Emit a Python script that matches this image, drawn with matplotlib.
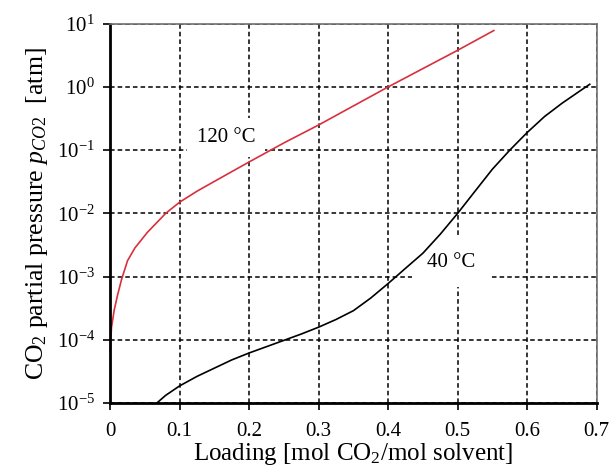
import numpy as np
import matplotlib
matplotlib.use("Agg")
import matplotlib.pyplot as plt
from matplotlib.ticker import FixedLocator, FuncFormatter

plt.rcParams['font.family'] = ['Liberation Serif', 'DejaVu Serif']
plt.rcParams['mathtext.fontset'] = 'custom'
plt.rcParams['mathtext.rm'] = 'Liberation Serif'
plt.rcParams['mathtext.it'] = 'Liberation Serif:italic'

# 120 degC isotherm
red_x = [0.0, 0.0019, 0.0057, 0.0105, 0.0163, 0.025, 0.0355, 0.0536, 0.08,
         0.1, 0.125, 0.15, 0.2, 0.25, 0.3, 0.35, 0.4, 0.45, 0.5, 0.552]
red_p = [6.6e-5, 1.55e-4, 2.9e-4, 5.0e-4, 8.9e-4, 1.78e-3, 2.82e-3, 5.0e-3, 1.0e-2,
         1.5e-2, 2.24e-2, 3.2e-2, 6.5e-2, 0.13, 0.25, 0.5, 1.0, 1.95, 3.8, 7.8]

# 40 degC isotherm
blk_x = [0.065, 0.08, 0.1, 0.125, 0.15, 0.175, 0.2, 0.225, 0.25, 0.275, 0.3,
         0.325, 0.35, 0.375, 0.4, 0.425, 0.45, 0.475, 0.5, 0.525, 0.55, 0.575,
         0.6, 0.625, 0.65, 0.675, 0.69]
blk_p = [9.5e-6, 1.32e-5, 1.86e-5, 2.63e-5, 3.55e-5, 4.79e-5, 6.17e-5, 7.76e-5,
         9.77e-5, 1.23e-4, 1.58e-4, 2.09e-4, 2.88e-4, 4.57e-4, 7.76e-4, 1.35e-3,
         2.34e-3, 4.68e-3, 1.0e-2, 2.24e-2, 5.0e-2, 0.1, 0.19, 0.34, 0.55, 0.85, 1.1]

x_ticks = [0, 0.1, 0.2, 0.3, 0.4, 0.5, 0.6, 0.7]
x_tick_labels = ['0', '0.1', '0.2', '0.3', '0.4', '0.5', '0.6', '0.7']
y_exponents = [-5, -4, -3, -2, -1, 0, 1]

fig = plt.figure(figsize=(6.12, 4.74), dpi=100)
ax = fig.add_axes([0.180, 0.150, 0.795, 0.800])

ax.plot(red_x, red_p, color='#d8303c', lw=1.2, clip_on=False, zorder=2)
ax.plot(blk_x, blk_p, color='black', lw=1.2, zorder=2)

ax.set_yscale('log')
ax.set_xlim(0, 0.7)
ax.set_ylim(1e-5, 1e1)

ax.xaxis.set_major_locator(FixedLocator(x_ticks))
ax.set_xticklabels(x_tick_labels)
ax.yaxis.set_major_locator(FixedLocator([10.0 ** e for e in y_exponents]))
ax.yaxis.set_minor_locator(FixedLocator([]))
ax.yaxis.set_major_formatter(FuncFormatter(
    lambda v, pos: r'$\mathregular{10^{%d}}$' % round(np.log10(v))))

ax.grid(True, color='black', linestyle=(0, (3, 2)), lw=1.1)
ax.tick_params(axis='both', direction='out', length=5, width=1.2,
               labelsize=15, colors='black')
ax.tick_params(axis='x', pad=9)
ax.tick_params(axis='y', pad=6)

for side in ['left', 'bottom']:
    ax.spines[side].set_linewidth(2.0)
for side in ['top', 'right']:
    ax.spines[side].set_linewidth(1.2)
    ax.spines[side].set_color('#707070')

ax.set_xlabel(r'Loading [mol CO$_2$/mol solvent]', fontsize=18, labelpad=0)
ax.set_ylabel(r'CO$_2$ partial pressure $p_{CO2}$  [atm]', fontsize=18.5, labelpad=5)

# labels sit on white boxes that hide the grid but not the curves
ax.text(0.167, 10 ** -0.80, '120 °C', fontsize=15, ha='center', va='center',
        zorder=1.8, bbox=dict(facecolor='white', edgecolor='none', pad=7))
ax.text(0.491, 10 ** -2.78, '40 °C', fontsize=15, ha='center', va='center',
        zorder=1.8, bbox=dict(facecolor='white', edgecolor='none', pad=11))

fig.savefig('out.png', dpi=100)
